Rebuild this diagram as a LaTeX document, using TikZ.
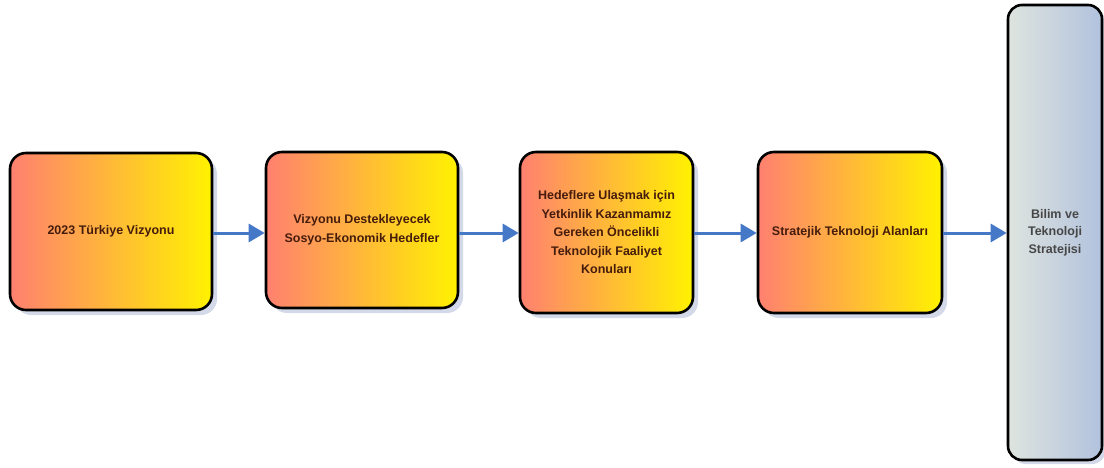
\documentclass[tikz,border=0pt]{standalone}
\usepackage{fontspec}
\setmainfont{Liberation Sans}
\usetikzlibrary{shadows,arrows.meta}
\definecolor{salmon}{RGB}{255,128,112}
\definecolor{yel}{RGB}{255,242,0}
\definecolor{gl}{RGB}{222,228,222}
\definecolor{gr}{RGB}{178,194,222}
\definecolor{arr}{RGB}{70,120,200}
\definecolor{txt}{RGB}{70,28,12}
\definecolor{shd}{RGB}{200,208,228}
\tikzset{
  stage/.style={draw=black, line width=2.6pt, rounded corners=16pt,
    left color=salmon, right color=yel,
    drop shadow={shadow xshift=5pt, shadow yshift=-5pt, fill=shd, opacity=0.8},
    align=center, font=\bfseries\fontsize{12.5}{18.5}\selectfont, text=txt},
  final/.style={draw=black, line width=2.6pt, rounded corners=14pt,
    left color=gl, right color=gr,
    drop shadow={shadow xshift=4pt, shadow yshift=-4pt, fill=shd, opacity=0.8},
    align=center, font=\bfseries\fontsize{12.5}{17.5}\selectfont, text=black!72},
  flow/.style={draw=arr, line width=3pt, -{Triangle[length=16pt,width=18pt]}}
}
\begin{document}
\begin{tikzpicture}[x=1pt,y=1pt]
\useasboundingbox (0,0) rectangle (1104,467);
\node[stage, minimum width=202pt, minimum height=157pt] (a) at (111,235.5) {2023 Türkiye Vizyonu};
\node[stage, minimum width=192pt, minimum height=156pt] (b) at (362,237) {Vizyonu Destekleyecek\\Sosyo-Ekonomik Hedefler};
\node[stage, minimum width=173pt, minimum height=161pt] (c) at (606.5,234.5) {Hedeflere Ulaşmak için\\Yetkinlik Kazanmamız\\Gereken Öncelikli\\Teknolojik Faaliyet\\Konuları};
\node[stage, minimum width=184pt, minimum height=161pt] (d) at (850,234.5) {Stratejik Teknoloji Alanları};
\node[final, minimum width=94pt, minimum height=455pt] (e) at (1055,234.5) {Bilim ve\\Teknoloji\\Stratejisi};
\draw[flow] (a.east |- 0,234) -- (b.west |- 0,234);
\draw[flow] (b.east |- 0,234) -- (c.west |- 0,234);
\draw[flow] (c.east |- 0,234) -- (d.west |- 0,234);
\draw[flow] (d.east |- 0,234) -- (e.west |- 0,234);
\end{tikzpicture}
\end{document}
